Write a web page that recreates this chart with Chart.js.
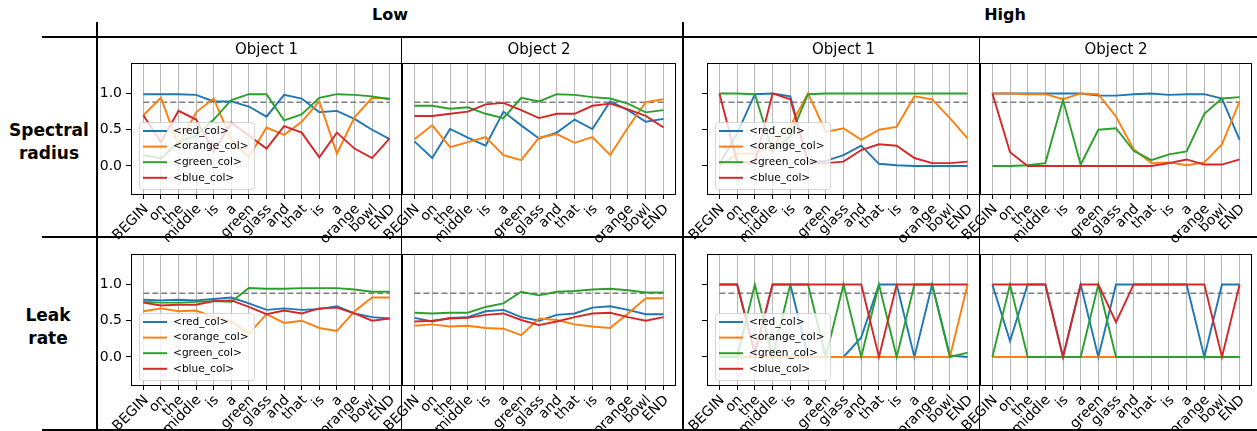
<!DOCTYPE html>
<html>
<head>
<meta charset="utf-8">
<script src="https://cdn.jsdelivr.net/npm/chart.js@4.4.0/dist/chart.umd.min.js"></script>
<style>
  body { margin: 0; background: #fff; width: 1257px; height: 431px; position: relative; overflow: hidden; font-family: "DejaVu Sans", sans-serif; }
  .rule { position: absolute; background: #000; }
  .hdr { position: absolute; font-weight: bold; font-size: 16px; transform: translateX(-50%); white-space: nowrap; }
  .rowlab { position: absolute; font-weight: bold; font-size: 17px; text-align: center; line-height: 23px; transform: translate(-50%, -50%); }
  .subtitle { position: absolute; font-size: 15px; transform: translateX(-50%); white-space: nowrap; }
  canvas { position: absolute; }
</style>
</head>
<body>
<div class="hdr" style="left:390px; top:5px;">Low</div>
<div class="hdr" style="left:1005px; top:5px;">High</div>
<div class="rowlab" style="left:49px; top:142px;">Spectral<br>radius</div>
<div class="rowlab" style="left:48px; top:327px;">Leak<br>rate</div>

<div class="rule" style="left:42px; top:36px; width:1215px; height:1.5px;"></div>
<div class="rule" style="left:42px; top:236px; width:1215px; height:1.5px;"></div>
<div class="rule" style="left:42px; top:429px; width:1215px; height:1.5px;"></div>
<div class="rule" style="left:96px; top:22px; width:1.5px; height:409px;"></div>
<div class="rule" style="left:682px; top:22px; width:1.5px; height:409px;"></div>
<div class="rule" style="left:401px; top:37px; width:1.2px; height:393px;"></div>
<div class="rule" style="left:979px; top:37px; width:1.2px; height:393px;"></div>

<script>
// x axis tokens and legend names
const tokens = ['BEGIN', 'on', 'the', 'middle', 'is', 'a', 'green', 'glass', 'and', 'that', 'is', 'a', 'orange', 'bowl', 'END'];
const seriesNames = ['<red_col>', '<orange_col>', '<green_col>', '<blue_col>'];
const seriesColors = ['#1f77b4', '#ff7f0e', '#2ca02c', '#d62728'];
const yTicks = [0, 0.5, 1.0];
const threshold = 0.88;

// Spectral radius - Low
const srLowObj1Red = [0.99, 0.99, 0.99, 0.98, 0.89, 0.89, 0.82, 0.68, 0.98, 0.93, 0.74, 0.76, 0.65, 0.50, 0.37];
const srLowObj1Orange = [0.70, 0.94, 0.28, 0.74, 0.93, 0.36, 0.12, 0.53, 0.43, 0.61, 0.89, 0.17, 0.67, 0.94, 0.93];
const srLowObj1Green = [0.15, 0.10, 0.33, 0.42, 0.64, 0.91, 0.99, 0.99, 0.63, 0.71, 0.94, 0.99, 0.98, 0.96, 0.92];
const srLowObj1Blue = [0.70, 0.33, 0.76, 0.64, 0.20, 0.60, 0.42, 0.24, 0.55, 0.46, 0.12, 0.46, 0.24, 0.11, 0.38];

const srLowObj2Red = [0.34, 0.11, 0.51, 0.39, 0.28, 0.75, 0.56, 0.38, 0.46, 0.64, 0.51, 0.89, 0.77, 0.61, 0.65];
const srLowObj2Orange = [0.37, 0.56, 0.26, 0.33, 0.40, 0.15, 0.08, 0.39, 0.44, 0.32, 0.40, 0.15, 0.53, 0.88, 0.92];
const srLowObj2Green = [0.83, 0.83, 0.79, 0.81, 0.72, 0.66, 0.94, 0.89, 0.99, 0.98, 0.95, 0.93, 0.86, 0.74, 0.77];
const srLowObj2Blue = [0.69, 0.69, 0.72, 0.75, 0.85, 0.87, 0.77, 0.66, 0.72, 0.72, 0.83, 0.86, 0.78, 0.69, 0.53];

// Spectral radius - High
const srHighObj1Red = [0.02, 0.45, 0.99, 1.00, 0.96, 0.06, 0.07, 0.15, 0.28, 0.03, 0.01, 0.00, 0.00, 0.00, 0.00];
const srHighObj1Orange = [0.00, 0.17, 0.17, 0.28, 0.55, 1.00, 0.47, 0.52, 0.36, 0.50, 0.54, 0.96, 0.92, 0.66, 0.38];
const srHighObj1Green = [1.00, 1.00, 0.99, 0.20, 0.41, 0.99, 1.00, 1.00, 1.00, 1.00, 1.00, 1.00, 1.00, 1.00, 1.00];
const srHighObj1Blue = [1.00, 0.06, 0.04, 1.00, 0.92, 0.05, 0.04, 0.06, 0.22, 0.30, 0.28, 0.11, 0.04, 0.04, 0.06];

const srHighObj2Red = [1.00, 1.00, 1.00, 1.00, 1.00, 1.00, 0.97, 0.97, 0.99, 1.00, 0.98, 0.99, 0.99, 0.93, 0.36];
const srHighObj2Orange = [1.00, 1.00, 0.99, 0.99, 0.92, 1.00, 0.99, 0.68, 0.23, 0.04, 0.05, 0.01, 0.05, 0.30, 0.89];
const srHighObj2Green = [0.00, 0.00, 0.01, 0.04, 0.91, 0.02, 0.50, 0.52, 0.21, 0.08, 0.16, 0.20, 0.72, 0.93, 0.95];
const srHighObj2Blue = [1.00, 0.19, 0.00, 0.00, 0.00, 0.00, 0.00, 0.00, 0.00, 0.00, 0.04, 0.09, 0.02, 0.02, 0.09];

// Leak rate - Low
const lrLowObj1Red = [0.79, 0.78, 0.79, 0.78, 0.80, 0.82, 0.74, 0.65, 0.67, 0.65, 0.66, 0.70, 0.60, 0.55, 0.53];
const lrLowObj1Orange = [0.63, 0.67, 0.63, 0.64, 0.55, 0.49, 0.32, 0.59, 0.47, 0.50, 0.40, 0.36, 0.63, 0.82, 0.82];
const lrLowObj1Green = [0.76, 0.75, 0.75, 0.76, 0.77, 0.76, 0.95, 0.94, 0.94, 0.95, 0.95, 0.95, 0.93, 0.90, 0.90];
const lrLowObj1Blue = [0.75, 0.71, 0.72, 0.72, 0.77, 0.78, 0.69, 0.59, 0.64, 0.60, 0.67, 0.68, 0.60, 0.50, 0.53];

const lrLowObj2Red = [0.54, 0.49, 0.54, 0.55, 0.63, 0.65, 0.55, 0.50, 0.58, 0.60, 0.68, 0.70, 0.65, 0.59, 0.59];
const lrLowObj2Orange = [0.43, 0.45, 0.42, 0.43, 0.40, 0.39, 0.30, 0.53, 0.51, 0.45, 0.42, 0.40, 0.60, 0.81, 0.81];
const lrLowObj2Green = [0.61, 0.60, 0.61, 0.61, 0.69, 0.74, 0.90, 0.85, 0.90, 0.91, 0.93, 0.94, 0.92, 0.89, 0.89];
const lrLowObj2Blue = [0.49, 0.50, 0.53, 0.54, 0.58, 0.60, 0.51, 0.44, 0.49, 0.55, 0.60, 0.61, 0.55, 0.50, 0.55];

// Leak rate - High
const lrHighObj1Red = [1, 1, 0.05, 1, 1, 0, 0, 0, 0.27, 1, 1, 0, 1, 0.02, 0];
const lrHighObj1Orange = [0, 0, 0, 0, 0, 0, 0, 0, 0, 0, 0, 0, 0, 0, 1];
const lrHighObj1Green = [0, 0, 1, 0, 1, 1, 0, 1, 0, 1, 0, 1, 1, 0, 0.06];
const lrHighObj1Blue = [1, 1, 0.05, 1, 1, 1, 1, 1, 1, 0, 1, 1, 1, 1, 1];

const lrHighObj2Red = [1, 0.22, 1, 1, 0, 1, 0, 1, 1, 1, 1, 1, 0, 1, 1];
const lrHighObj2Orange = [0, 0, 0, 0, 0, 0, 0, 0, 0, 0, 0, 0, 0, 0, 0];
const lrHighObj2Green = [0, 1, 0, 0, 0, 0, 1, 0, 0, 0, 0, 0, 0, 0, 0];
const lrHighObj2Blue = [1, 1, 1, 1, 0, 1, 1, 0.48, 1, 1, 1, 1, 1, 0, 1];

// panel placement: [left, top, right, bottom] of the plot area
const panels = [
  { area: [131, 63, 402, 195], data: [srLowObj1Red, srLowObj1Orange, srLowObj1Green, srLowObj1Blue], yLabels: true, yMarks: true, legend: true, title: 'Object 1' },
  { area: [402, 63, 676, 195], data: [srLowObj2Red, srLowObj2Orange, srLowObj2Green, srLowObj2Blue], title: 'Object 2' },
  { area: [707, 63, 980, 195], data: [srHighObj1Red, srHighObj1Orange, srHighObj1Green, srHighObj1Blue], yMarks: true, legend: true, title: 'Object 1' },
  { area: [980, 63, 1252, 195], data: [srHighObj2Red, srHighObj2Orange, srHighObj2Green, srHighObj2Blue], title: 'Object 2' },
  { area: [131, 254, 402, 386], data: [lrLowObj1Red, lrLowObj1Orange, lrLowObj1Green, lrLowObj1Blue], yLabels: true, yMarks: true, legend: true },
  { area: [402, 254, 676, 386], data: [lrLowObj2Red, lrLowObj2Orange, lrLowObj2Green, lrLowObj2Blue] },
  { area: [707, 254, 980, 386], data: [lrHighObj1Red, lrHighObj1Orange, lrHighObj1Green, lrHighObj1Blue], yMarks: true, legend: true },
  { area: [980, 254, 1252, 386], data: [lrHighObj2Red, lrHighObj2Orange, lrHighObj2Green, lrHighObj2Blue] }
];

const padL = 45, padT = 14, padR = 3, padB = 60;

// box around the plot area, drawn over the lines like matplotlib spines
const framePlugin = {
  id: 'frame',
  afterDatasetsDraw(chart) {
    const a = chart.chartArea;
    const ctx = chart.ctx;
    ctx.save();
    ctx.strokeStyle = '#000';
    ctx.lineWidth = 1;
    ctx.strokeRect(Math.round(a.left) + 0.5, Math.round(a.top) + 0.5, Math.round(a.right - a.left) - 1, Math.round(a.bottom - a.top) - 1);
    ctx.restore();
  }
};

// legend placed inside the plot, lower left
const insideLegend = {
  id: 'insideLegend',
  afterDatasetsDraw(chart, args, opts) {
    if (!opts.show) return;
    const a = chart.chartArea;
    const ctx = chart.ctx;
    const w = 115, h = 67;
    const x = a.left + 8, y = a.bottom - 6 - h;
    ctx.save();
    ctx.beginPath();
    ctx.roundRect(x + 0.5, y + 0.5, w, h, 3);
    ctx.fillStyle = 'rgba(255,255,255,0.8)';
    ctx.fill();
    ctx.strokeStyle = 'rgba(204,204,204,0.8)';
    ctx.lineWidth = 1;
    ctx.stroke();
    ctx.font = '10.6px "DejaVu Sans"';
    ctx.textBaseline = 'middle';
    ctx.fillStyle = '#000';
    seriesNames.forEach((name, i) => {
      const cy = y + 9 + i * 15.6;
      ctx.beginPath();
      ctx.moveTo(x + 4, cy);
      ctx.lineTo(x + 28, cy);
      ctx.strokeStyle = seriesColors[i];
      ctx.lineWidth = 2;
      ctx.stroke();
      ctx.fillText(name, x + 34, cy);
    });
    ctx.restore();
  }
};

function makePanel(p) {
  const [L, T, R, B] = p.area;
  const yW = p.yLabels ? 40 : (p.yMarks ? 6 : 0);
  const canvas = document.createElement('canvas');
  canvas.width = R - L + padL + padR;
  canvas.height = B - T + padT + padB;
  canvas.style.left = (L - padL) + 'px';
  canvas.style.top = (T - padT) + 'px';
  document.body.appendChild(canvas);

  if (p.title) {
    const t = document.createElement('div');
    t.className = 'subtitle';
    t.textContent = p.title;
    t.style.left = ((L + R) / 2) + 'px';
    t.style.top = (T - 23) + 'px';
    document.body.appendChild(t);
  }

  const datasets = p.data.map((vals, i) => ({
    label: seriesNames[i],
    data: vals.map((v, k) => ({ x: k, y: v })),
    borderColor: seriesColors[i],
    borderWidth: 1.9,
    pointRadius: 0,
    tension: 0,
    order: 4 - i
  }));
  datasets.push({
    label: 'threshold',
    data: [{ x: 0, y: threshold }, { x: tokens.length - 1, y: threshold }],
    borderColor: '#7f7f7f',
    borderWidth: 1.5,
    borderDash: [6, 3],
    pointRadius: 0,
    order: 10
  });

  new Chart(canvas, {
    type: 'line',
    data: { datasets },
    options: {
      responsive: false,
      animation: false,
      devicePixelRatio: 1,
      layout: { padding: { left: padL - yW, top: padT, right: padR, bottom: 0 } },
      plugins: {
        legend: { display: false },
        tooltip: { enabled: false },
        insideLegend: { show: !!p.legend }
      },
      scales: {
        x: {
          type: 'linear',
          min: -0.7,
          max: tokens.length - 1 + 0.7,
          afterBuildTicks: s => { s.ticks = tokens.map((t, i) => ({ value: i })); },
          afterFit: s => { s.height = padB; },
          border: { display: false },
          grid: {
            color: 'rgba(0,0,0,0.32)',
            lineWidth: 0.9,
            borderDash: [1.2, 2.2],
            drawTicks: true,
            tickLength: 4,
            tickColor: '#000',
            tickWidth: 1,
            tickBorderDash: []
          },
          ticks: {
            autoSkip: false,
            minRotation: 45,
            maxRotation: 45,
            padding: 2,
            labelOffset: 3,
            color: '#000',
            font: { family: 'DejaVu Sans', size: 14 },
            callback: v => tokens[v]
          }
        },
        y: {
          display: !!(p.yLabels || p.yMarks),
          min: -0.4,
          max: 1.42,
          afterBuildTicks: s => { s.ticks = yTicks.map(v => ({ value: v })); },
          afterFit: s => { s.width = yW; },
          border: { display: false },
          grid: { drawOnChartArea: false, drawTicks: true, tickLength: 5, tickColor: '#000' },
          ticks: {
            display: !!p.yLabels,
            padding: 4,
            color: '#000',
            font: { family: 'DejaVu Sans', size: 14 },
            callback: v => v.toFixed(1)
          }
        }
      }
    },
    plugins: [framePlugin, insideLegend]
  });
}

panels.forEach(makePanel);
</script>
</body>
</html>
